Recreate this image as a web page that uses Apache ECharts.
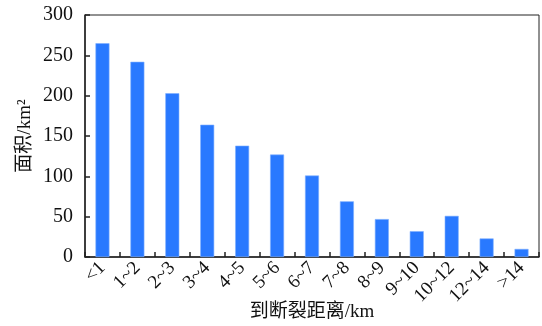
<!DOCTYPE html>
<html>
<head>
<meta charset="utf-8">
<script src="https://cdn.jsdelivr.net/npm/echarts@6/dist/echarts.min.js"></script>
<style>
  html, body { margin: 0; padding: 0; background: #fff; }
  #chart { width: 542px; height: 326px; }
</style>
</head>
<body>
<div id="chart"></div>
<script>
// Distance bands from the fault (km)
const categories = ['<1', '1~2', '2~3', '3~4', '4~5', '5~6', '6~7', '7~8', '8~9', '9~10', '10~12', '12~14', '>14'];
// Area within each band (km²)
const areaValues = [265, 242, 203, 164, 138, 127, 101, 69, 47, 32, 51, 23, 10];
// Value axis ticks
const yTicks = [0, 50, 100, 150, 200, 250, 300];

const serif = '"Liberation Serif", "Times New Roman", "Noto Sans CJK SC", serif';

const chart = echarts.init(document.getElementById('chart'));
chart.setOption({
  animation: false,
  backgroundColor: '#fff',
  grid: {
    left: 85, right: 3, top: 15, bottom: 69,
    containLabel: false,
    outerBoundsMode: 'none',
    show: true, borderColor: '#222', borderWidth: 1
  },
  xAxis: {
    type: 'category',
    data: categories,
    name: '到断裂距离/km',
    nameLocation: 'middle',
    nameGap: 46,
    nameMoveOverlap: false,
    nameTextStyle: { fontFamily: serif, fontSize: 19, color: '#111' },
    axisLine: { lineStyle: { color: '#222', width: 1.5 } },
    axisTick: { show: true, inside: true, length: 5, alignWithLabel: false, lineStyle: { color: '#222', width: 1.5 } },
    axisLabel: { rotate: 45, margin: 8, fontFamily: serif, fontSize: 19, color: '#111', interval: 0 }
  },
  yAxis: {
    type: 'value',
    min: yTicks[0],
    max: yTicks[yTicks.length - 1],
    interval: 50,
    name: '面积/km²',
    nameLocation: 'middle',
    nameGap: 50,
    nameMoveOverlap: false,
    nameRotate: 90,
    nameTextStyle: { fontFamily: serif, fontSize: 19, color: '#111' },
    splitLine: { show: false },
    axisLine: { show: true, lineStyle: { color: '#222', width: 1.5 } },
    axisTick: { show: true, inside: true, length: 5, lineStyle: { color: '#222', width: 1.5 } },
    axisLabel: { margin: 12, fontFamily: serif, fontSize: 20, color: '#111' }
  },
  series: [{
    type: 'bar',
    data: areaValues,
    barWidth: '40%',
    itemStyle: { color: '#2979ff', borderColor: '#7fb0ff', borderWidth: 0.6 }
  }]
});
</script>
</body>
</html>
